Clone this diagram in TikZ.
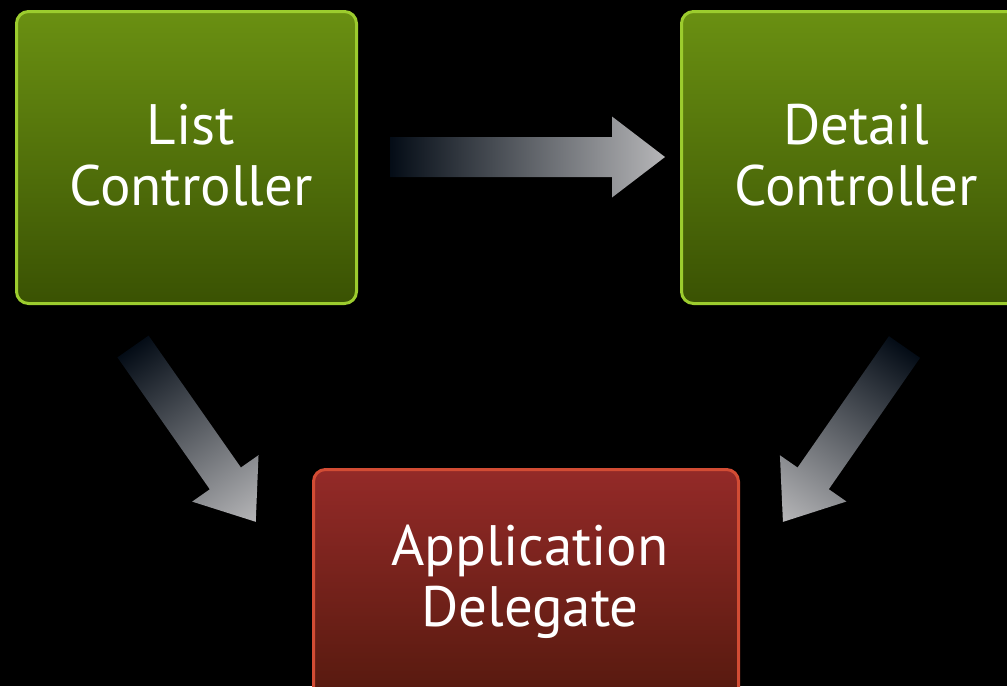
\documentclass[tikz,border=0pt]{standalone}
\usepackage{fontspec}
\setmainfont{PT Sans}
\definecolor{gtop}{RGB}{106,144,18}
\definecolor{gbot}{RGB}{58,82,3}
\definecolor{gline}{RGB}{156,204,46}
\definecolor{rtop}{RGB}{148,42,40}
\definecolor{rbot}{RGB}{80,24,12}
\definecolor{rline}{RGB}{210,76,52}
\definecolor{atail}{RGB}{4,12,22}
\definecolor{ahead}{RGB}{182,182,184}
\begin{document}
\begin{tikzpicture}[x=1pt,y=1pt,
  greenbox/.style={draw=gline, line width=3pt, rounded corners=12pt,
    top color=gtop, bottom color=gbot, inner sep=0pt,
    minimum width=340pt, minimum height=292pt},
  redbox/.style={draw=rline, line width=3pt, rounded corners=12pt,
    top color=rtop, bottom color=rbot, inner sep=0pt,
    minimum width=425pt, minimum height=250pt},
  lbl/.style={text=white, align=center, inner sep=0pt,
    font=\fontsize{57}{61}\selectfont},
  fatarrow/.style={left color=atail, right color=ahead}]
\fill[black] (0,0) rectangle (1007,-686);
\useasboundingbox (0,0) rectangle (1007,-686);
\clip (0,0) rectangle (1007,-686);
% boxes
\node[greenbox] (list) at (186.5,-157.5) {};
\node[greenbox] (detail) at (851.5,-157.5) {};
\node[redbox] (deleg) at (526,-594.5) {};
% labels
\node[lbl] (listtxt) at (191,-155.5) {List\\Controller};
\node[lbl] (detailtxt) at (856,-155) {Detail\\Controller};
\node[lbl] (delegtxt) at (530,-582) {Application\\Delegate};
% arrow tails
\coordinate (htail) at (390,-157);
\coordinate (ltail) at (133,-346.5);
\coordinate (rtail) at (904.5,-347);
\begin{scope}[transform canvas={shift={(htail)}}]
  \shade[fatarrow] (0,20) -- (222,20) -- (222,40.5) -- (275,0) -- (222,-40.5) -- (222,-20) -- (0,-20) -- cycle;
\end{scope}
\begin{scope}[transform canvas={shift={(ltail)}, rotate=-55}]
  \shade[fatarrow] (0,19) -- (161,19) -- (161,40.5) -- (214,0) -- (161,-40.5) -- (161,-19) -- (0,-19) -- cycle;
\end{scope}
\begin{scope}[transform canvas={shift={(rtail)}, rotate=-124.8}]
  \shade[fatarrow] (0,19) -- (160,19) -- (160,40.5) -- (213,0) -- (160,-40.5) -- (160,-19) -- (0,-19) -- cycle;
\end{scope}
\end{tikzpicture}
\end{document}
